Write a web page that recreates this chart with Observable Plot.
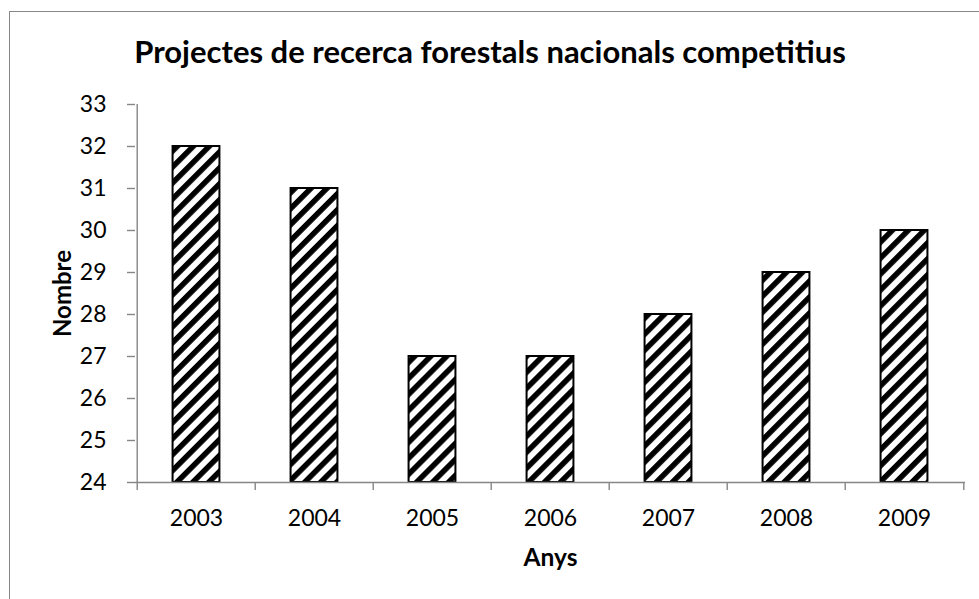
<!DOCTYPE html>
<html><head><meta charset="utf-8">
<script src="https://cdn.jsdelivr.net/npm/d3@7"></script>
<script src="https://cdn.jsdelivr.net/npm/@observablehq/plot@0.6"></script>
<style>
html,body{margin:0;padding:0;background:#fff;overflow:hidden;}
#chart{position:relative;width:979px;height:599px;}
#chart svg{position:absolute;left:0;top:0;}
#border{position:absolute;left:9px;top:11px;width:2000px;height:2000px;border-left:1.4px solid #888;border-top:1.4px solid #888;pointer-events:none;}
</style></head><body>
<div id="chart"></div>
<script>
const years = ["2003", "2004", "2005", "2006", "2007", "2008", "2009"];
const counts = [32, 31, 27, 27, 28, 29, 30];
const yTicks = [24, 25, 26, 27, 28, 29, 30, 31, 32, 33];
const titleText = "Projectes de recerca forestals nacionals competitius";
const xLabel = "Anys";
const yLabel = "Nombre";

const W = 979, H = 599, mL = 135, mR = 14, mT = 104, mB = 117;
const step = (W - mL - mR) / years.length;
const gray = "#868686";
const data = years.map((year, i) => ({year, value: counts[i]}));

const hatch = () => {
  const defs = d3.create("svg:defs");
  const p = defs.append("pattern").attr("id", "hatch")
    .attr("patternUnits", "userSpaceOnUse")
    .attr("width", 11.3).attr("height", 11.3)
    .attr("patternTransform", "rotate(45)");
  p.append("rect").attr("width", 11.3).attr("height", 11.3).attr("fill", "white");
  p.append("rect").attr("width", 5.5).attr("height", 11.3).attr("fill", "black");
  return defs.node();
};

const chart = Plot.plot({
  width: W, height: H,
  marginLeft: mL, marginRight: mR, marginTop: mT, marginBottom: mB,
  style: {fontFamily: "Lato", fontSize: "23px", color: "black", background: "transparent", overflow: "visible"},
  x: {domain: years, padding: 0, label: null, axis: null},
  y: {domain: [24, 33], label: null, axis: null},
  marks: [
    hatch,
    Plot.barY(data, {x: "year", y1: 24, y2: "value", fill: "url(#hatch)", stroke: "black", strokeWidth: 2,
      insetLeft: step * 0.3, insetRight: step * 0.3}),
    Plot.ruleY([24], {stroke: gray, strokeWidth: 1.4}),
    Plot.ruleX([years[0]], {x: d => d, y1: 24, y2: 33, dx: -step / 2, stroke: gray, strokeWidth: 1.4}),
    Plot.ruleX(years, {x: d => d, y1: 24, y2: 24, insetBottom: -8, dx: -step / 2, stroke: gray, strokeWidth: 1.4}),
    Plot.ruleX([years[years.length - 1]], {x: d => d, y1: 24, y2: 24, insetBottom: -8, dx: step / 2, stroke: gray, strokeWidth: 1.4}),
    Plot.axisY({ticks: yTicks, tickSize: 8, tickPadding: 21, fontSize: 23, stroke: gray, strokeWidth: 1.4, fill: "black", tickFormat: d => String(d), label: null}),
    Plot.axisX({tickSize: 0, tickPadding: 27, fontSize: 23, fill: "black", label: null}),
    Plot.text([titleText], {frameAnchor: "top", lineAnchor: "bottom", dy: -42, dx: W / 2 - (mL + (W - mL - mR) / 2),
      fontSize: 31, fontWeight: "bold", fill: "black"}),
    Plot.text([xLabel], {frameAnchor: "bottom", lineAnchor: "bottom", dy: 83, fontSize: 24.5, fontWeight: "bold", fill: "black"}),
    Plot.text([yLabel], {frameAnchor: "left", textAnchor: "middle", lineAnchor: "bottom", rotate: -90, dx: -65, fontSize: 24, fontWeight: "bold", fill: "black"})
  ]
});
const root = document.getElementById("chart");
root.appendChild(chart);
const b = document.createElement("div");
b.id = "border";
root.appendChild(b);
</script>
</body></html>
